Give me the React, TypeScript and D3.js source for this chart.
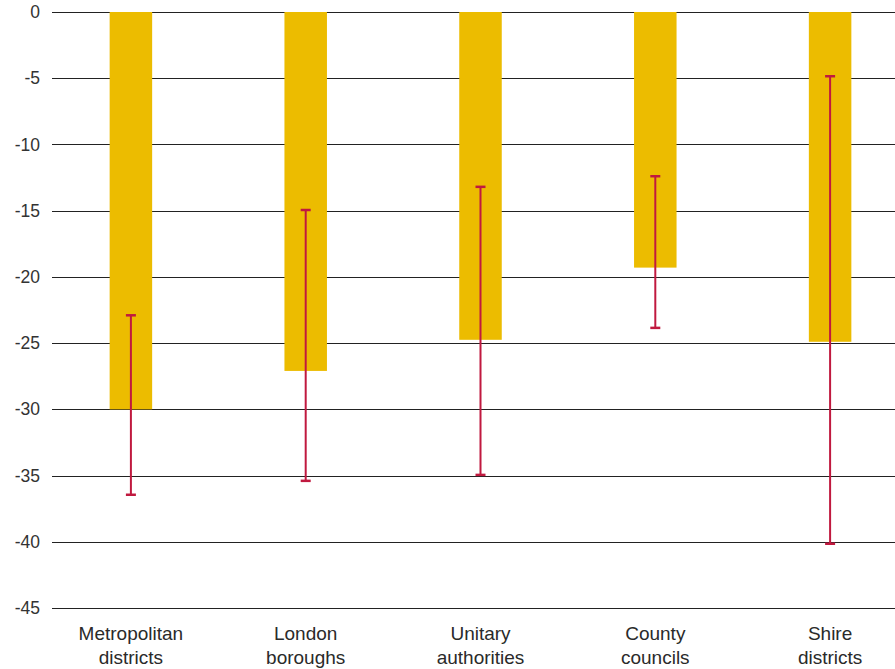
import React from "react";
import * as d3 from "d3";

const categories = [
  ["Metropolitan", "districts"],
  ["London", "boroughs"],
  ["Unitary", "authorities"],
  ["County", "councils"],
  ["Shire", "districts"],
];
const barValues = [-30.0, -27.1, -24.75, -19.3, -24.9];
const errHigh = [-22.9, -14.95, -13.2, -12.4, -4.85];
const errLow = [-36.45, -35.4, -34.95, -23.85, -40.15];
const yTicks = [0, -5, -10, -15, -20, -25, -30, -35, -40, -45];

const W = 895;
const H = 669;

export default function App() {
  const y = d3.scaleLinear().domain([0, -45]).range([12, 608]);
  const x = d3
    .scaleBand<number>()
    .domain(d3.range(categories.length))
    .range([43.5, 917.5])
    .paddingInner(0.76)
    .paddingOuter(0.38);
  const bw = 42.5;
  const font = "'Liberation Sans', Arial, sans-serif";
  return (
    <svg width={W} height={H} style={{ position: "absolute", left: 0, top: 0 }}>
      <rect width={W} height={H} fill="#fff" />
      {yTicks.map((t) => (
        <g key={t}>
          <line x1={52} x2={W} y1={Math.round(y(t)) + 0.5} y2={Math.round(y(t)) + 0.5} stroke="#222" strokeWidth={1} />
          <text
            x={40}
            y={y(t)}
            dy="0.35em"
            textAnchor="end"
            fontFamily={font}
            fontSize={17.5}
            fill="#333"
          >
            {t}
          </text>
        </g>
      ))}
      {barValues.map((v, i) => {
        const cx = (x(i) as number) + x.bandwidth() / 2;
        return (
          <rect key={i} x={cx - bw / 2} y={y(0)} width={bw} height={y(v) - y(0)} fill="#ECBC00" />
        );
      })}
      {errHigh.map((hv, i) => {
        const cx = (x(i) as number) + x.bandwidth() / 2;
        const lv = errLow[i];
        return (
          <g key={i} stroke="#C0193F" strokeWidth={2}>
            <line x1={cx} x2={cx} y1={y(hv)} y2={y(lv)} />
            <line x1={cx - 5} x2={cx + 5} y1={y(hv)} y2={y(hv)} strokeWidth={2.5} />
            <line x1={cx - 5} x2={cx + 5} y1={y(lv)} y2={y(lv)} strokeWidth={2.5} />
          </g>
        );
      })}
      {categories.map((c, i) => {
        const cx = (x(i) as number) + x.bandwidth() / 2;
        return (
          <text key={i} x={cx} textAnchor="middle" fontFamily={font} fontSize={19} fill="#2a2a2a">
            <tspan x={cx} y={640}>{c[0]}</tspan>
            <tspan x={cx} y={664}>{c[1]}</tspan>
          </text>
        );
      })}
    </svg>
  );
}
